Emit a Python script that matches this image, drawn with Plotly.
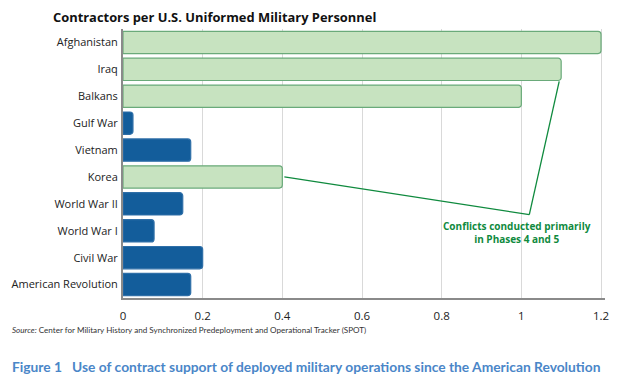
import plotly.graph_objects as go

categories = ["American Revolution", "Civil War", "World War I", "World War II", "Korea",
              "Vietnam", "Gulf War", "Balkans", "Iraq", "Afghanistan"]
values = [0.17, 0.20, 0.078, 0.15, 0.40, 0.17, 0.025, 1.0, 1.1, 1.2]
phase45 = [False, False, False, False, True, False, False, True, True, True]
x_ticks = [0, 0.2, 0.4, 0.6, 0.8, 1, 1.2]
x_ticklabels = ["0", "0.2", "0.4", "0.6", "0.8", "1", "1.2"]

GREEN_FILL = "#c7e3c0"
GREEN_LINE = "#6aaa7a"
BLUE_FILL = "#135d9b"
BLUE_LINE = "#2f6fa8"
ANN_GREEN = "#0f8a3e"

# page body has an 8px margin, so the figure is sized/offset accordingly
W, H = 614, 378
L, R, T, B = 115, 17, 21, 88
plot_w = W - L - R
plot_h = H - T - B

fig = go.Figure()
fig.add_trace(go.Bar(
    y=categories, x=values, orientation="h",
    marker=dict(color=[GREEN_FILL if p else BLUE_FILL for p in phase45],
                line=dict(color=[GREEN_LINE if p else BLUE_LINE for p in phase45], width=1.2)),
    hoverinfo="x+y", showlegend=False,
))

korea_i = categories.index("Korea")
iraq_i = categories.index("Iraq")
vx, vy = 1.02, 2.6
fig.add_shape(type="line", xref="x", yref="y",
              x0=values[korea_i] + 0.005, y0=korea_i, x1=vx, y1=vy,
              line=dict(color=ANN_GREEN, width=1.3))
fig.add_shape(type="line", xref="x", yref="y",
              x0=vx, y0=vy, x1=values[iraq_i] - 0.005, y1=iraq_i - 0.45,
              line=dict(color=ANN_GREEN, width=1.3))

fig.add_annotation(xref="x", yref="y", x=0.99, y=1.92,
                   text="<b>Conflicts conducted primarily<br>in Phases 4 and 5</b>",
                   showarrow=False, align="center",
                   font=dict(family="Open Sans", size=10, color=ANN_GREEN))

def px_to_paper_x(px):
    return (px - L) / plot_w

def py_to_paper_y(py):
    return (H - B - py) / plot_h

fig.add_annotation(xref="paper", yref="paper", x=px_to_paper_x(2), y=py_to_paper_y(322),
                   xanchor="left", yanchor="middle", showarrow=False,
                   text="<i>Source:</i> Center for Military History and Synchronized Predeployment and Operational Tracker (SPOT)",
                   font=dict(family="Lato", size=8.1, color="#333333"))

fig.add_annotation(xref="paper", yref="paper", x=px_to_paper_x(2), y=py_to_paper_y(358),
                   xanchor="left", yanchor="middle", showarrow=False,
                   text="<b>Figure 1   Use of contract support of deployed military operations since the American Revolution</b>",
                   font=dict(family="Lato", size=13.8, color="#4a86c8"))

fig.update_layout(
    width=W, height=H,
    margin=dict(l=L, r=R, t=T, b=B),
    paper_bgcolor="white", plot_bgcolor="white",
    bargap=0.17, barcornerradius=3,
    title=dict(text="<b>Contractors per U.S. Uniformed Military Personnel</b>",
               xref="container", yref="container", x=45 / W, xanchor="left",
               y=1 - 9 / H, yanchor="middle",
               font=dict(family="Open Sans", size=12.9, color="#111111")),
    font=dict(family="Open Sans", color="#222222"),
)
fig.update_xaxes(range=[0, 1.21], tickvals=x_ticks, ticktext=x_ticklabels,
                 showgrid=True, gridcolor="#d9d9d9", gridwidth=1,
                 showline=True, linecolor="#8a8a8a", linewidth=2,
                 ticks="", ticklabelstandoff=6, tickfont=dict(size=11.5, color="#222222"),
                 zeroline=False, automargin=False, fixedrange=True)
fig.update_yaxes(categoryorder="array", categoryarray=categories,
                 range=[-0.5, len(categories) - 0.5],
                 showline=True, linecolor="#8a8a8a", linewidth=2,
                 ticks="", ticklabelstandoff=1, automargin=False,
                 tickfont=dict(size=11, color="#222222"), showgrid=False,
                 fixedrange=True)

fig.write_html("out.html")
